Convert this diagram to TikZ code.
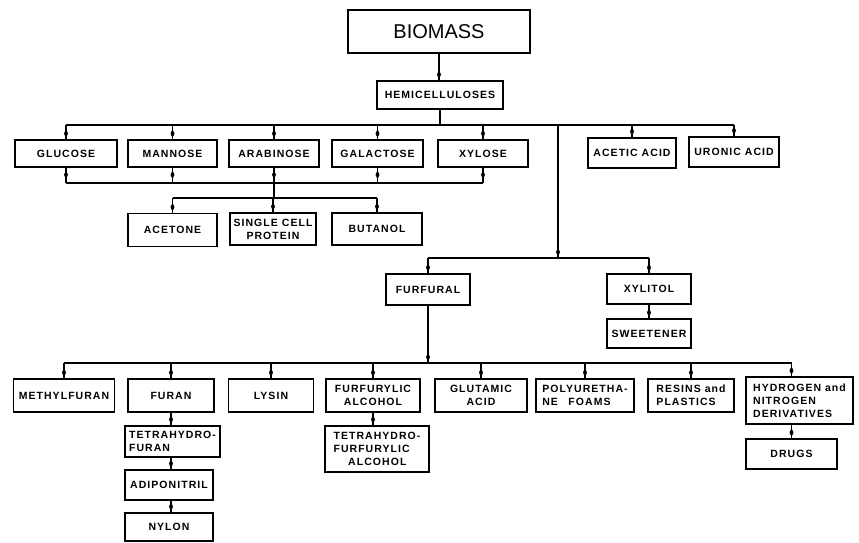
\documentclass[tikz,border=0pt]{standalone}
\usepackage{fontspec}
\usetikzlibrary{decorations.markings}
\newfontfamily\lblfont[LetterSpace=10]{Liberation Sans}
\newfontfamily\titlefont{Liberation Sans}

\newcommand\flowblob{\fill (-7pt,0pt) -- (-3pt,-2pt) -- (0pt,-0.8pt) -- (0pt,0.8pt) -- (-3pt,2pt) -- cycle;}

\tikzset{
  x=1pt, y=-1pt,
  box/.style={draw, line width=1.2pt, inner sep=1pt, align=center,
    font=\fontsize{10.5}{13}\selectfont\lblfont\bfseries},
  lbox/.style={box, align=left},
  link/.style={line width=1.3pt},
  tipend/.style={link, postaction={decorate}, decoration={markings,
    mark=at position -3pt with {\flowblob}}},
  tipnear/.style={link, postaction={decorate}, decoration={markings,
    mark=at position 10pt with {\flowblob}}},
}

\begin{document}
\begin{tikzpicture}
\useasboundingbox (0,0) rectangle (859,542);

% top levels
\node[box, minimum width=182pt, minimum height=43pt,
      font=\fontsize{20}{24}\selectfont\titlefont] (biomass) at (439,31.5) {BIOMASS};
\node[box, minimum width=126pt, minimum height=28pt] (hemi) at (440,95) {HEMICELLULOSES};

% sugars and acids
\node[box, minimum width=102pt, minimum height=27pt] (glucose)   at (66,153.5)  {GLUCOSE};
\node[box, minimum width=89pt,  minimum height=27pt] (mannose)   at (172.5,153.5) {MANNOSE};
\node[box, minimum width=90pt,  minimum height=27pt] (arabinose) at (274,153.5) {ARABINOSE};
\node[box, minimum width=91pt,  minimum height=27pt] (galactose) at (377.5,153.5) {GALACTOSE};
\node[box, minimum width=90pt,  minimum height=27pt] (xylose)    at (483,153.5) {XYLOSE};
\node[box, minimum width=88pt,  minimum height=30pt] (acetic)    at (632,153)   {ACETIC ACID};
\node[box, minimum width=90pt,  minimum height=30pt] (uronic)    at (734,152)   {URONIC ACID};

% fermentation products
\node[box, minimum width=89pt, minimum height=33pt] (acetone) at (172.5,230) {ACETONE};
\node[box, minimum width=86pt, minimum height=32pt] (scp)     at (273,229)   {SINGLE CELL\\PROTEIN};
\node[box, minimum width=90pt, minimum height=32pt] (butanol) at (377,229)   {BUTANOL};

% furfural and xylitol
\node[box, minimum width=84pt, minimum height=31pt] (furfural)  at (428,289.5) {FURFURAL};
\node[box, minimum width=84pt, minimum height=30pt] (xylitol)   at (649,289)   {XYLITOL};
\node[box, minimum width=84pt, minimum height=29pt] (sweetener) at (649,333.5) {SWEETENER};

% furfural derivatives
\node[box,  minimum width=101pt, minimum height=33pt] (methylfuran) at (64,395.5)  {METHYLFURAN};
\node[box,  minimum width=86pt,  minimum height=33pt] (furan)       at (171,395.5) {FURAN};
\node[box,  minimum width=85pt,  minimum height=33pt] (lysin)       at (271,395.5) {LYSIN};
\node[box,  minimum width=94pt,  minimum height=33pt] (ffalc)       at (373,395.5) {FURFURYLIC\\ALCOHOL};
\node[box,  minimum width=92pt,  minimum height=33pt] (glutamic)    at (481,395.5) {GLUTAMIC\\ACID};
\node[lbox, minimum width=98pt,  minimum height=33pt] (polyur)      at (585,395.5) {POLYURETHA-\\NE\hspace{1em}FOAMS};
\node[lbox, minimum width=86pt,  minimum height=33pt] (resins)      at (691,395.5) {RESINS and\\PLASTICS};
\node[lbox, minimum width=107pt, minimum height=47pt] (hydrogen)    at (799.5,400.5) {HYDROGEN and\\NITROGEN\\DERIVATIVES};

% further products
\node[lbox, minimum width=95pt,  minimum height=31pt] (thf)   at (172.5,441.5) {TETRAHYDRO-\\FURAN};
\node[box,  minimum width=88pt,  minimum height=30pt] (adipo) at (169,485)     {ADIPONITRIL};
\node[box,  minimum width=88pt,  minimum height=28pt] (nylon) at (169,527)     {NYLON};
\node[lbox, minimum width=104pt, minimum height=46pt] (thfa)  at (377,449)     {TETRAHYDRO-\\FURFURYLIC\\\hspace*{1.4em}ALCOHOL};
\node[box,  minimum width=91pt,  minimum height=30pt] (drugs) at (791.5,454)   {DRUGS};

% bus levels
\coordinate (b1) at (438,125);
\coordinate (b2) at (438,183);
\coordinate (b3) at (273,198);
\coordinate (trunk) at (558,125);
\coordinate (b4) at (558,258);
\coordinate (b5) at (428,363);

% biomass -> hemicelluloses -> first bus
\draw[tipend] (biomass.south) -- (biomass.south |- hemi.north);
\draw[link] (hemi.south) -- (hemi.south |- b1);
\draw[link] (glucose.north |- b1) -- (uronic.north |- b1);
\foreach \n in {glucose,mannose,arabinose,galactose,xylose,acetic,uronic}
  \draw[tipend] (\n.north |- b1) -- (\n.north);

% sugars collected and fermented
\foreach \n in {glucose,mannose,galactose,xylose}
  \draw[tipnear] (\n.south) -- (\n.south |- b2);
\draw[link] (glucose.south |- b2) -- (xylose.south |- b2);
\draw[tipnear] (arabinose.south) -- (arabinose.south |- b3);
\draw[link] (acetone.north |- b3) -- (butanol.north |- b3);
\foreach \n in {acetone,scp,butanol}
  \draw[tipend] (\n.north |- b3) -- (\n.north);

% pentose trunk: furfural and xylitol
\draw[tipend] (trunk) -- (b4);
\draw[link] (furfural.north |- b4) -- (xylitol.north |- b4);
\draw[tipend] (furfural.north |- b4) -- (furfural.north);
\draw[tipend] (xylitol.north |- b4) -- (xylitol.north);
\draw[tipend] (xylitol.south) -- (sweetener.north);

% furfural derivatives
\draw[tipend] (furfural.south) -- (b5);
\draw[link] (methylfuran.north |- b5) -- (drugs.north |- b5);
\foreach \n in {methylfuran,furan,lysin,ffalc,glutamic,polyur,resins}
  \draw[tipend] (\n.north |- b5) -- (\n.north);
\draw[tipend] (drugs.north |- b5) -- (drugs.north |- hydrogen.north);

% product chains
\draw[tipend] (furan.south) -- (furan.south |- thf.north);
\draw[tipend] (furan.south |- thf.south) -- (furan.south |- adipo.north);
\draw[tipend] (furan.south |- adipo.south) -- (furan.south |- nylon.north);
\draw[tipend] (ffalc.south) -- (ffalc.south |- thfa.north);
\draw[tipend] (drugs.north |- hydrogen.south) -- (drugs.north);
\end{tikzpicture}
\end{document}
